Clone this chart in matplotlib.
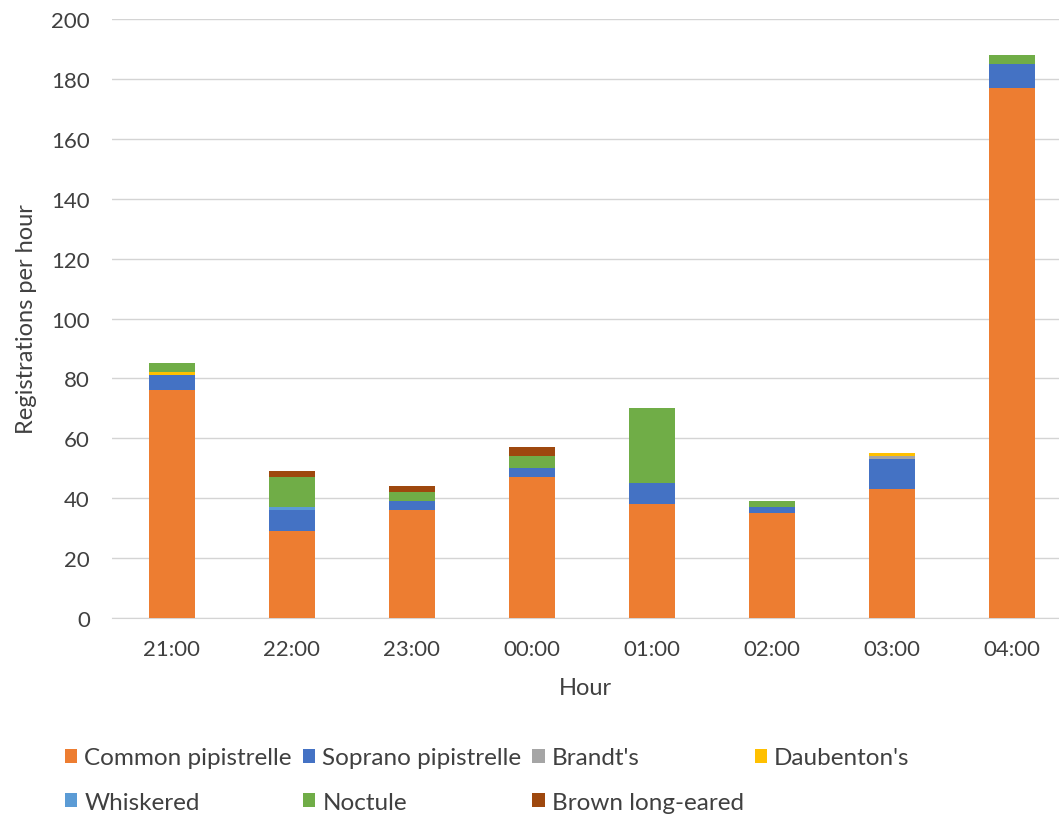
import matplotlib
matplotlib.use("Agg")
import matplotlib.pyplot as plt
import numpy as np

hours = ["21:00", "22:00", "23:00", "00:00", "01:00", "02:00", "03:00", "04:00"]

common_pipistrelle = [76, 29, 36, 47, 38, 35, 43, 177]
soprano_pipistrelle = [5, 7, 3, 3, 7, 2, 10, 8]
brandts = [0, 0, 0, 0, 0, 0, 1, 0]
daubentons = [1, 0, 0, 0, 0, 0, 1, 0]
whiskered = [0, 1, 0, 0, 0, 0, 0, 0]
noctule = [3, 10, 3, 4, 25, 2, 0, 3]
brown_long_eared = [0, 2, 2, 3, 0, 0, 0, 0]

series = [
    ("Common pipistrelle", common_pipistrelle, "#ED7D31"),
    ("Soprano pipistrelle", soprano_pipistrelle, "#4472C4"),
    ("Brandt's", brandts, "#A5A5A5"),
    ("Daubenton's", daubentons, "#FFC000"),
    ("Whiskered", whiskered, "#5B9BD5"),
    ("Noctule", noctule, "#70AD47"),
    ("Brown long-eared", brown_long_eared, "#9E480E"),
]

plt.rcParams["font.family"] = ["Lato", "DejaVu Sans"]
text_color = "#404040"

fig = plt.figure(figsize=(10.59, 8.2), dpi=100)
ax = fig.add_axes([112 / 1059, 201 / 820, 947 / 1059, 599 / 820])

x = np.arange(len(hours))
bottom = np.zeros(len(hours))
handles = {}
for name, vals, color in series:
    vals = np.array(vals, dtype=float)
    h = ax.bar(x, vals, width=0.39, bottom=bottom, color=color, label=name, zorder=3)
    handles[name] = h
    bottom += vals

ax.set_ylim(0, 200)
ax.set_yticks(range(0, 201, 20))
ax.set_xlim(-0.5, 7.5 - 13 / 120)
ax.set_xticks(x)
ax.set_xticklabels(hours)
ax.grid(axis="y", color="#D4D4D4", linewidth=1, zorder=0)
for s in ["top", "right", "left"]:
    ax.spines[s].set_visible(False)
ax.spines["bottom"].set_color("#D4D4D4")
ax.tick_params(axis="both", length=0, labelsize=16, colors=text_color)
ax.tick_params(axis="x", pad=15)
ax.tick_params(axis="y", pad=16)
ax.set_xlabel("Hour", fontsize=17, color=text_color, labelpad=13)
ax.set_ylabel("Registrations per hour", fontsize=17, color=text_color, labelpad=10)

order = ["Common pipistrelle", "Whiskered", "Soprano pipistrelle", "Noctule",
         "Brandt's", "Brown long-eared", "Daubenton's"]
leg = fig.legend([handles[n] for n in order], order, ncol=4, loc="center left",
                 bbox_to_anchor=(48 / 1059, 1 - 781 / 820), frameon=False,
                 fontsize=17.5, handlelength=0.5, handleheight=0.5, handletextpad=0.3,
                 columnspacing=0.45, labelspacing=0.95, labelcolor=text_color,
                 borderpad=0.2)

fig.savefig("out.png", dpi=100)
